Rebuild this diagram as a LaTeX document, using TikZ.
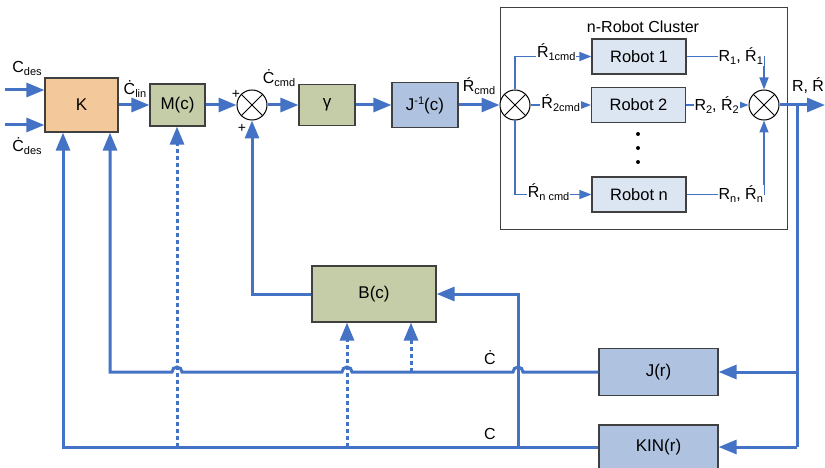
\documentclass[tikz,border=0pt]{standalone}
\usepackage{fontspec}
\setmainfont{Liberation Sans}
\usetikzlibrary{arrows.meta}

\definecolor{sigblue}{HTML}{4472C4}
\definecolor{boxline}{HTML}{404040}
\definecolor{kfill}{HTML}{F3C99B}
\definecolor{gfill}{HTML}{C4CDA8}
\definecolor{bfill}{HTML}{AFC3E1}
\definecolor{rfill}{HTML}{DCE6F2}

\newcommand{\subtxt}[1]{\raisebox{-3pt}{\fontsize{11}{12}\selectfont #1}}
\newcommand{\suptxt}[1]{\raisebox{6pt}{\fontsize{11}{12}\selectfont #1}}

\tikzset{
  every node/.style={font=\fontsize{16}{18}\selectfont},
  blk/.style={draw=boxline, line width=1.2pt, inner sep=0pt, font=\fontsize{17}{19}\selectfont},
  rob/.style={blk, fill=rfill, minimum width=94pt, minimum height=35pt, font=\fontsize{16.5}{18}\selectfont},
  sumnode/.style={circle, draw=black, fill=white, line width=1pt, minimum size=30pt, inner sep=0pt,
    path picture={\draw[line width=1pt] (path picture bounding box.north west) -- (path picture bounding box.south east)
      (path picture bounding box.north east) -- (path picture bounding box.south west);}},
  wire/.style={sigblue, line width=3pt},
  sig/.style={wire, -{Triangle[length=18pt,width=14pt]}},
  minorsig/.style={sigblue, line width=1.5pt},
  minorarr/.style={minorsig, -{Triangle[length=12pt,width=9pt]}},
  dotsig/.style={sig, line width=3pt, dash pattern=on 4pt off 3pt},
  lbl/.style={fill=white, text=black, inner sep=1pt}
}

\begin{document}
\begin{tikzpicture}[x=1pt, y=-1pt]
  \useasboundingbox (0,0) rectangle (825,468);

  % forward path
  \node[blk, fill=kfill, minimum width=73pt, minimum height=54pt] (K) at (81.5,105) {K};
  \node[blk, fill=gfill, minimum width=55pt, minimum height=42pt] (M) at (177.5,105) {M(c)};
  \node[sumnode] (s1) at (252,105) {};
  \node[blk, fill=gfill, minimum width=56pt, minimum height=41pt] (gam) at (327,105) {γ};
  \node[blk, fill=bfill, minimum width=66pt, minimum height=45pt] (Jinv) at (425,105) {J\suptxt{-1}(c)};

  % robot cluster
  \node[draw=boxline, line width=1pt, minimum width=287pt, minimum height=221pt, inner sep=0pt] (clu) at (643.5,118.5) {};
  \node (clutitle) at (643,27) {n-Robot Cluster};
  \node[sumnode] (s2) at (515,105) {};
  \node[rob] (r1) at (639,56.5) {Robot 1};
  \node[rob] (r2) at (638.5,105) {Robot 2};
  \node[rob] (rn) at (639,194.5) {Robot n};
  \foreach \y in {134,148,162}
    \fill (638,\y) circle[radius=2pt];
  \node[sumnode] (s3) at (764,105) {};

  % feedback blocks
  \node[blk, fill=bfill, minimum width=119pt, minimum height=47pt] (J) at (658.5,372) {J(r)};
  \node[blk, fill=bfill, minimum width=119pt, minimum height=44pt] (KIN) at (658.5,447) {KIN(r)};
  \node[blk, fill=gfill, minimum width=124pt, minimum height=56pt] (B) at (374,294) {B(c)};

  % free ends and corners
  \coordinate (in1) at (5,90);
  \coordinate (in2) at (5,125);
  \coordinate (out) at (825,105);
  \coordinate (tap) at (797,105);
  \coordinate (tapJ) at (797,372);
  \coordinate (tapK) at (797,447);
  \coordinate (fbd) at (110,372);
  \coordinate (fb) at (63,447);
  \coordinate (bt) at (518,447);
  \coordinate (dm) at (177,447);
  \coordinate (db) at (347,447);
  \coordinate (dd) at (411,372);

  % inputs and forward signals
  \draw[sig] (in1) -- (in1 -| K.west);
  \draw[sig] (in2) -- (in2 -| K.west);
  \node (lcdes) at (27,68) {C\subtxt{des}};
  \node (ldcdes) at (27,146) {Ċ\subtxt{des}};
  \draw[sig] (K) -- (M);
  \node (lclin) at (135,89) {Ċ\subtxt{lin}};
  \draw[sig] (M) -- (s1);
  \node[font=\fontsize{14}{14}\selectfont] (p1) at (236,94) {+};
  \node[font=\fontsize{14}{14}\selectfont] (p2) at (242,128) {+};
  \draw[sig] (s1) -- (gam);
  \node (lccmd) at (279,78) {Ċ\subtxt{cmd}};
  \draw[sig] (gam) -- (Jinv);
  \draw[sig] (Jinv) -- (s2);
  \node (lrcmd) at (479,86) {Ŕ\subtxt{cmd}};

  % inside the cluster
  \draw[minorarr] (s2.north) |- node[lbl, pos=0.77, yshift=4pt] {Ŕ\subtxt{1cmd}} (r1.west);
  \draw[minorarr] (s2.east) -- node[lbl, pos=0.5, yshift=2pt] {Ŕ\subtxt{2cmd}} (r2.west);
  \draw[minorarr] (s2.south) |- node[lbl, pos=0.72, yshift=2pt] {Ŕ\subtxt{n cmd}} (rn.west);
  \draw[minorarr] (r1.east) -| node[lbl, pos=0.35] {R\subtxt{1}, Ŕ\subtxt{1}} (s3.north);
  \draw[minorarr] (r2.east) -- node[lbl, pos=0.49] {R\subtxt{2}, Ŕ\subtxt{2}} (s3.west);
  \draw[minorarr] (rn.east) -| node[lbl, pos=0.35] {R\subtxt{n}, Ŕ\subtxt{n}} (s3.south);

  % output and measurement
  \draw[sig] (s3) -- (out);
  \node (lout) at (808,86) {R, Ŕ};
  \draw[wire] (tap) -- (tapK);
  \draw[sig] (tapJ) -- (J);
  \draw[sig] (tapK) -- (KIN);

  % feedback lines
  \draw[sig] (J.west) -- (523,372) arc[start angle=0, end angle=180, radius=5pt]
    -- (352,372) arc[start angle=0, end angle=180, radius=5pt]
    -- (182,372) arc[start angle=0, end angle=180, radius=5pt]
    -- (fbd) -- (fbd |- K.south);
  \node (ldc) at (490,358) {Ċ};
  \draw[sig] (KIN.west) -- (fb) -- (fb |- K.south);
  \node (lc) at (490,434) {C};
  \draw[sig] (bt) |- (B.east);
  \draw[sig] (B.west) -| (s1.south);
  \draw[dotsig] (dm) -- (dm |- M.south);
  \draw[dotsig] (db) -- (db |- B.south);
  \draw[dotsig] (dd) -- (dd |- B.south);

\end{tikzpicture}
\end{document}
